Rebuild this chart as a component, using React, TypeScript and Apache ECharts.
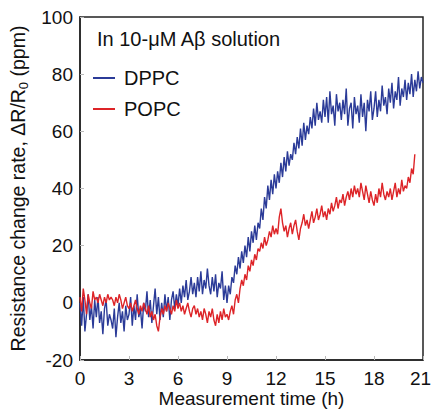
import React, { useEffect, useRef } from "react";
import * as echarts from "echarts";

const STEP = 0.1; // hours between samples
const xTicks = [0, 3, 6, 9, 12, 15, 18, 21];
const yTicks = [-20, 0, 20, 40, 60, 80, 100];

// DPPC, sampled every 0.1 h from 0 to 21 h
const dppc: number[] = [
  0, -8, 2, -10, -4, 3, -6, -1, -9, 1,
  -5, 2, -7, -3, -11, -2, 1, -8, -4, -6,
  -9, -2, -12, -5, 0, -7, -3, -10, -1, -6,
  -4, 2, -8, -1, -6, 3, -5, -2, -9, 0,
  -3, 4, -5, 1, -7, -1, 5, -4, 2, -6,
  0, -5, 3, -3, 2, -6, 1, 4, -2, 3,
  -1, 5, 0, 6, 2, 8, 1, 4, 9, 3,
  7, 2, 9, 4, 11, 3, 8, 5, 12, 6,
  3, 9, 4, 10, 2, 7, 5, 11, 1, 6,
  0, 6, 3, 9, 7, 13, 10, 16, 12, 18,
  14, 20, 16, 23, 18, 25, 21, 27, 22, 28,
  26, 33, 29, 37, 33, 41, 36, 43, 38, 45,
  40, 46, 42, 49, 44, 51, 46, 53, 48, 52,
  50, 56, 52, 58, 54, 61, 55, 63, 57, 62,
  59, 65, 61, 68, 62, 70, 64, 67, 63, 71,
  65, 72, 63, 74, 66, 69, 62, 73, 67, 70,
  64, 71, 66, 75, 62, 68, 70, 61, 72, 66,
  69, 63, 73, 65, 70, 60, 71, 67, 74, 64,
  68, 74, 65, 71, 67, 76, 69, 72, 66, 75,
  70, 77, 68, 74, 71, 79, 69, 75, 72, 78,
  71, 77, 73, 80, 72, 78, 74, 81, 75, 79,
  77,
];

// POPC, sampled every 0.1 h from 0 to 20.5 h
const popc: number[] = [
  2, -3, 5, 1, -4, 3, 0, -2, 4, 1,
  2, 0, 3, 1, -1, 2, 0, 3, 1, 2,
  1, -1, 2, 0, 3, 1, -2, 0, 2, -1,
  -2, 0, -3, -1, 1, -2, -4, -1, -3, 0,
  -2, -4, -1, -5, -3, -6, -4, -8, -10, -5,
  -2, -4, -1, -3, 0, -2, -4, -1, -3, 1,
  -2, 0, -3, -1, -4, -2, 0, -3, -5, -2,
  -1, -4, -2, -5, -3, -6, -2, -4, -7, -3,
  -5, -2, -6, -8, -4, -7, -3, -6, -2, -5,
  -4, -6, -3, -1, -4, 1, 3, 0, 5, 8,
  6, 10, 8, 13, 11, 15, 13, 17, 15, 19,
  18, 21, 19, 23, 20, 22, 25, 23, 27, 24,
  26, 24, 30, 33, 28, 25, 27, 23, 26, 28,
  24, 27, 29, 25, 22, 26, 28, 31, 27, 29,
  26, 29, 32, 28, 30, 33, 29, 31, 34, 30,
  32, 29, 33, 31, 35, 32, 34, 37, 33, 36,
  35, 38, 34, 37, 39, 36, 40, 37, 41, 38,
  40, 37, 42, 39, 36, 41, 38, 35, 39, 36,
  34, 38, 35, 40, 37, 42, 38, 36, 39, 37,
  40, 36, 39, 42, 37, 40, 38, 43, 39, 41,
  40, 44, 42, 47, 45, 52,
];

const BLUE = "#2b3b98";
const RED = "#dd2428";
const FONT = "Liberation Sans, Arial, Helvetica, sans-serif";

const toPairs = (arr: number[]) =>
  arr.map((v, i) => [Math.round(i * STEP * 100) / 100, v]);

export default function App() {
  const ref = useRef<HTMLDivElement>(null);
  useEffect(() => {
    if (!ref.current) return;
    const chart = echarts.init(ref.current, null, { renderer: "svg" });
    const xMax = xTicks[xTicks.length - 1];
    chart.setOption({
      animation: false,
      backgroundColor: "#fff",
      textStyle: { fontFamily: FONT },
      title: {
        text: "In 10-μM Aβ solution",
        left: 92,
        top: 24,
        textStyle: { fontSize: 20, fontWeight: "normal", color: "#111", fontFamily: FONT },
      },
      legend: {
        orient: "vertical",
        left: 88,
        top: 63,
        icon: "rect",
        itemWidth: 22,
        itemHeight: 2,
        itemGap: 11,
        textStyle: { fontSize: 20, color: "#111", fontFamily: FONT, lineHeight: 20, padding: [0, 0, 0, 4] },
        data: ["DPPC", "POPC"],
      },
      grid: {
        left: 80,
        right: 8,
        top: 17,
        bottom: 50,
        show: true,
        borderColor: "#222",
        borderWidth: 1.5,
        containLabel: false,
        outerBoundsMode: "none",
      },
      xAxis: {
        type: "value",
        min: 0,
        max: xMax,
        interval: 3,
        name: "Measurement time (h)",
        nameLocation: "middle",
        nameGap: 29,
        nameMoveOverlap: false,
        nameTextStyle: { fontSize: 19, color: "#111", fontFamily: FONT, lineHeight: 19, verticalAlign: "top" },
        axisLine: { show: true, onZero: false, lineStyle: { color: "#222", width: 1.5 } },
        axisTick: { show: true, inside: true, length: 4, lineStyle: { color: "#bbb" } },
        axisLabel: {
          fontSize: 19,
          color: "#111",
          margin: 9,
          fontFamily: FONT,
          formatter: (v: number) =>
            xTicks.includes(v) ? (v === xMax ? `{r|${v}}` : String(v)) : "",
          rich: {
            r: { fontSize: 19, color: "#111", fontFamily: FONT, padding: [0, 5, 0, 0] },
          },
        },
        splitLine: { show: false },
      },
      yAxis: {
        type: "value",
        min: -20,
        max: 100,
        interval: 20,
        name: "{a|Resistance change rate, ΔR/R}{s|0}{a| (ppm)}",
        nameLocation: "middle",
        nameGap: 50,
        nameTextStyle: {
          fontSize: 19.5,
          color: "#111",
          fontFamily: FONT,
          rich: {
            a: { fontSize: 19.5, color: "#111", fontFamily: FONT, lineHeight: 24 },
            s: { fontSize: 13, color: "#111", fontFamily: FONT, lineHeight: 24, verticalAlign: "bottom", padding: [9, 0, 0, 0] },
          },
        },
        axisLine: { show: true, onZero: false, lineStyle: { color: "#222", width: 1.5 } },
        axisTick: { show: true, inside: true, length: 4, lineStyle: { color: "#bbb" } },
        axisLabel: {
          fontSize: 19,
          color: "#111",
          margin: 7,
          fontFamily: FONT,
          formatter: (v: number) => (yTicks.includes(v) ? String(v) : ""),
        },
        splitLine: { show: false },
      },
      series: [
        {
          name: "DPPC",
          type: "line",
          data: toPairs(dppc),
          symbol: "none",
          lineStyle: { color: BLUE, width: 1.4 },
          itemStyle: { color: BLUE },
          z: 2,
        },
        {
          name: "POPC",
          type: "line",
          data: toPairs(popc),
          symbol: "none",
          lineStyle: { color: RED, width: 1.4 },
          itemStyle: { color: RED },
          z: 3,
        },
      ],
    });
    return () => chart.dispose();
  }, []);
  return <div ref={ref} style={{ width: 431, height: 410, position: "absolute", left: 0, top: 0 }} />;
}
